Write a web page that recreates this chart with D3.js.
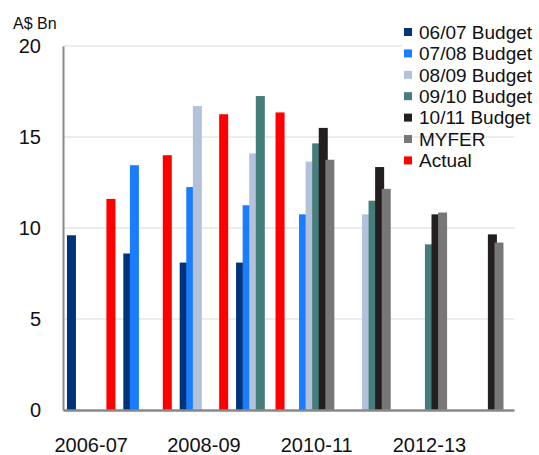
<!DOCTYPE html>
<html>
<head>
<meta charset="utf-8">
<script src="https://cdn.jsdelivr.net/npm/d3@7"></script>
<style>
  body { margin: 0; background: #fff; }
  text { font-family: "Liberation Sans", Arial, Helvetica, sans-serif; fill: #111; }
</style>
</head>
<body>
<script>
"use strict";

var width = 539,
    height = 455;

// financial years on the x axis
const years = ["2006-07", "2007-08", "2008-09", "2009-10", "2010-11", "2011-12", "2012-13", "2013-14"];
const shownYears = ["2006-07", "2008-09", "2010-11", "2012-13"];
const yTicks = [0, 5, 10, 15, 20];

// series names (legend order) and values in A$ Bn, null = not forecast
const seriesNames = ["06/07 Budget", "07/08 Budget", "08/09 Budget", "09/10 Budget", "10/11 Budget", "MYFER", "Actual"];
const budget0607 = [9.6, 8.6, 8.1, 8.1, null, null, null, null];
const budget0708 = [null, 13.45, 12.25, 11.25, 10.75, null, null, null];
const budget0809 = [null, null, 16.7, 14.1, 13.65, 10.75, null, null];
const budget0910 = [null, null, null, 17.25, 14.65, 11.5, 9.1, null];
const budget1011 = [null, null, null, null, 15.5, 13.35, 10.75, 9.65];
const myfer = [null, null, null, null, 13.75, 12.15, 10.85, 9.2];
const actual = [11.6, 14.0, 16.25, 16.35, null, null, null, null];

const colors = ["#00347a", "#1a7dff", "#b3c2da", "#457d7a", "#231f20", "#777777", "#ff0000"];

window.onload = function () {
    const allSeries = [budget0607, budget0708, budget0809, budget0910, budget1011, myfer, actual];

    const svg = d3.select("body")
        .append("svg")
        .attr("width", width)
        .attr("height", height);

    const x = d3.scaleBand()
        .domain(years)
        .range([63, 514]);

    const y = d3.scaleLinear()
        .domain([0, 20])
        .range([410, 46]);

    const bw = x.bandwidth();
    const slot = d3.scaleLinear()
        .domain([0, seriesNames.length - 1])
        .range([-0.35 * bw, 0.35 * bw]);
    const barW = 0.16 * bw;

    // gridlines
    svg.append("g")
        .selectAll("line")
        .data(yTicks.filter(d => d > 0))
        .enter()
        .append("line")
        .attr("x1", 63)
        .attr("x2", 514)
        .attr("y1", d => y(d))
        .attr("y2", d => y(d))
        .attr("stroke", "#e6e6e6")
        .attr("stroke-width", 1.5);

    // bars, later series drawn over earlier ones
    allSeries.forEach(function (vals, i) {
        svg.append("g")
            .attr("fill", colors[i])
            .selectAll("rect")
            .data(years.map((yr, j) => ({ year: yr, v: vals[j] })).filter(d => d.v != null))
            .enter()
            .append("rect")
            .attr("x", d => x(d.year) + bw / 2 + slot(i) - barW / 2)
            .attr("y", d => y(d.v))
            .attr("width", barW)
            .attr("height", d => y(0) - y(d.v));
    });

    // y axis
    const yAxis = svg.append("g")
        .attr("transform", "translate(63,0)")
        .call(d3.axisLeft(y).tickValues(yTicks).tickSize(0).tickPadding(22));
    yAxis.select(".domain").attr("stroke", "#888").attr("stroke-width", 2);
    yAxis.selectAll("text")
        .style("font-size", "20px")
        .style("font-family", "'Liberation Sans', Arial, sans-serif")
        .attr("fill", "#111");

    // x axis
    const xAxis = svg.append("g")
        .attr("transform", "translate(0,410)")
        .call(d3.axisBottom(x).tickValues(shownYears).tickSize(0).tickPadding(28));
    xAxis.select(".domain").attr("stroke", "#888").attr("stroke-width", 2.5);
    xAxis.selectAll("text")
        .style("font-size", "20px")
        .style("font-family", "'Liberation Sans', Arial, sans-serif")
        .attr("fill", "#111");

    svg.append("text")
        .attr("x", 13)
        .attr("y", 29)
        .style("font-size", "16px")
        .text("A$ Bn");

    // legend
    const legend = svg.append("g");
    legend.append("rect")
        .attr("x", 402)
        .attr("y", 20)
        .attr("width", 137)
        .attr("height", 108)
        .attr("fill", "#fff");

    const row = legend.selectAll("g.item")
        .data(seriesNames)
        .enter()
        .append("g")
        .attr("class", "item")
        .attr("transform", (d, i) => "translate(0," + (32 + i * 21.4) + ")");
    row.append("rect")
        .attr("x", 404)
        .attr("y", -4)
        .attr("width", 8)
        .attr("height", 8)
        .attr("fill", (d, i) => colors[i]);
    row.append("text")
        .attr("x", 419)
        .attr("dy", "0.36em")
        .style("font-size", "19px")
        .text(d => d);
};
</script>
</body>
</html>
